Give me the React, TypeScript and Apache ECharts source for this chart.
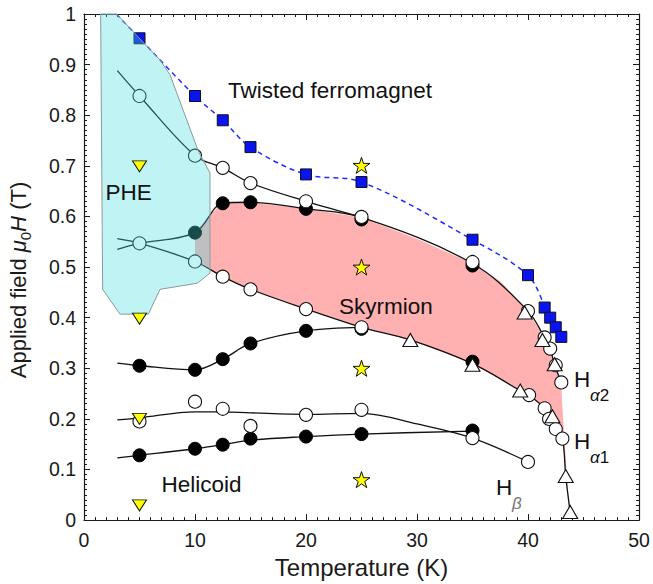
import React, { useEffect, useRef } from 'react';
import * as echarts from 'echarts';

const FONT = '"Liberation Sans", Arial, Helvetica, sans-serif';

// ---- Axis ranges / ticks ----
const xRange = [0, 50];
const yRange = [0, 1];
const xInterval = 10;
const yInterval = 0.1;

// ---- Boundary curves ----
const upperOpenLine = [[3, 0.888], [5, 0.838], [10, 0.72], [12.5, 0.696], [15, 0.666], [20, 0.63], [25, 0.599]];
const skyUpperLine = [[3, 0.535], [5, 0.547], [10, 0.568], [12.5, 0.626], [15, 0.628], [20, 0.615], [25, 0.598], [35, 0.507], [40, 0.413], [41.5, 0.36], [42, 0.338], [42.4, 0.307], [43, 0.272]];
const skyLowerLine = [[3, 0.556], [5, 0.547], [10, 0.511], [12.5, 0.481], [15, 0.456], [20, 0.417], [25, 0.381], [29.4, 0.356], [35, 0.309], [39.3, 0.256], [40, 0.248], [41.5, 0.221], [42, 0.203], [42.5, 0.181], [43.1, 0.161], [43.4, 0.087], [43.8, 0.016]];
const midFilledLine = [[3, 0.31], [5, 0.305], [10, 0.297], [12.5, 0.318], [15, 0.349], [20, 0.374], [25, 0.381]];
const openLowLine = [[3, 0.198], [5, 0.202], [10, 0.214], [12.5, 0.214], [15, 0.212], [20, 0.209], [25, 0.211], [30, 0.19], [35, 0.162], [40, 0.115]];
const filledLowLine = [[3, 0.123], [5, 0.128], [10, 0.141], [12.5, 0.149], [15, 0.158], [20, 0.165], [25, 0.17], [35, 0.176]];
const twistedLine = [[2.9, 1.0], [5, 0.952], [10, 0.838], [12.5, 0.79], [15, 0.737], [20, 0.683], [25, 0.668], [35, 0.554], [40, 0.484], [41.3, 0.432]];

// ---- Markers ----
const openCircles = [
  [5, 0.838], [10, 0.72], [12.5, 0.696], [15, 0.666], [20, 0.63], [25, 0.599], [35, 0.51], [40, 0.413], [41.5, 0.361], [42, 0.339], [42.5, 0.306], [43, 0.272],
  [5, 0.547], [10, 0.511], [12.5, 0.481], [15, 0.456], [20, 0.417], [25, 0.381], [40.1, 0.247], [41.5, 0.221], [41.9, 0.2], [42.5, 0.18], [43.1, 0.161],
  [5, 0.195], [10, 0.234], [12.5, 0.22], [15, 0.186], [20, 0.208], [25, 0.218], [35, 0.162], [40, 0.115],
];
const filledCircles = [
  [5, 0.305], [10, 0.297], [12.5, 0.318], [15, 0.349], [20, 0.374], [25, 0.378], [35, 0.313],
  [10, 0.568], [12.5, 0.626], [15, 0.628], [20, 0.615], [25, 0.594], [35, 0.503],
  [5, 0.128], [10, 0.141], [12.5, 0.149], [15, 0.161], [20, 0.165], [25, 0.17], [35, 0.177],
];
const openTriangles = [[29.4, 0.356], [35, 0.307], [39.3, 0.256], [42.2, 0.205], [43.4, 0.087], [43.8, 0.016], [39.7, 0.41], [41.3, 0.356], [42.4, 0.308]];
const blueSquares = [[5, 0.952], [10, 0.838], [12.5, 0.79], [15, 0.737], [20, 0.683], [25, 0.668], [35, 0.554], [40, 0.484], [41.5, 0.42], [42, 0.4], [42.5, 0.381], [43, 0.362]];
const yellowTriangles = [[5, 0.699], [5, 0.398], [5, 0.2], [5, 0.029]];
const yellowStars = [[25, 0.701], [25, 0.5], [25, 0.3], [25, 0.08]];

// ---- Regions ----
const skyrmionRegion = [
  [10, 0.568], [11.4, 0.605], [12.5, 0.626], [15, 0.628], [20, 0.615], [25, 0.598], [30, 0.556], [35, 0.507], [37.5, 0.472], [40, 0.413], [41.5, 0.36], [42, 0.338], [42.4, 0.307], [43, 0.272],
  [43.0, 0.259], [43.7, 0.016],
  [43.8, 0.016], [43.4, 0.087], [43.1, 0.161], [42.5, 0.181], [42, 0.203], [41.5, 0.221], [40, 0.248], [39.3, 0.256], [35, 0.309], [29.4, 0.356], [25, 0.381], [20, 0.417], [15, 0.456], [12.5, 0.481], [10, 0.511],
];
const pheRegion = [
  [1.5, 1.0], [2.95, 1.0], [4.86, 0.955], [6.85, 0.909], [7.75, 0.88], [10.3, 0.729], [11.35, 0.686],
  [11.35, 0.488], [10.2, 0.468], [6.85, 0.456], [5.8, 0.407], [3.24, 0.407], [1.68, 0.456],
];

const STAR = 'path://M50,2 L61.2,36.2 L97.5,36.2 L68.2,57.5 L79.4,91.8 L50,70.6 L20.6,91.8 L31.8,57.5 L2.5,36.2 L38.8,36.2 Z';

function polygonSeries(points: number[][], style: any, z: number) {
  return {
    type: 'custom',
    coordinateSystem: 'cartesian2d',
    data: [points[0]],
    silent: true,
    z,
    clip: false,
    renderItem: (_params: any, api: any) => ({
      type: 'polygon',
      shape: { points: points.map((p) => api.coord(p)) },
      style,
    }),
  };
}

function lineSeries(data: number[][], extra: any = {}) {
  return {
    type: 'line',
    data,
    smooth: 0.35,
    symbol: 'none',
    silent: true,
    z: 2,
    lineStyle: { color: '#111', width: 1.3 },
    ...extra,
  };
}

function scatterSeries(data: number[][], symbol: string, size: any, itemStyle: any, z: number, extra: any = {}) {
  return { type: 'scatter', data, symbol, symbolSize: size, itemStyle: { opacity: 1, ...itemStyle }, z, silent: true, ...extra };
}

function axisCommon(isX: boolean, pos: string, showLabel: boolean) {
  return {
    type: 'value',
    position: pos,
    min: isX ? xRange[0] : yRange[0],
    max: isX ? xRange[1] : yRange[1],
    interval: isX ? xInterval : yInterval,
    axisLine: { show: true, onZero: false, lineStyle: { color: '#1a1a1a', width: 1.2 } },
    axisTick: { show: true, inside: true, length: 6, lineStyle: { color: '#1a1a1a', width: 1 } },
    minorTick: { show: true, splitNumber: 10, length: 3, lineStyle: { color: '#1a1a1a', width: 1 } },
    splitLine: { show: false },
    minorSplitLine: { show: false },
    axisLabel: { show: showLabel, fontFamily: FONT, fontSize: 19.5, color: '#1a1a1a', margin: isX ? 10 : 8 },
  };
}

const LABEL_SIZE = 22.5;

function sub(x: number, y: number, main: string, subText: string, subColor = '#111', italicAll = false) {
  return [
    { type: 'text', x, y, z: 10, style: { text: main, fontFamily: FONT, fontSize: LABEL_SIZE, fill: '#111', align: 'left', verticalAlign: 'middle' } },
    {
      type: 'text', x: x + 16, y: y + 16, z: 10,
      style: {
        text: subText, fontFamily: FONT, fontSize: 17, fill: subColor, align: 'left', verticalAlign: 'middle',
        fontStyle: italicAll ? 'italic' : 'normal',
        rich: { i: { fontStyle: 'italic', fontFamily: FONT, fontSize: 17, fill: subColor } },
      },
    },
  ];
}

function label(x: number, y: number, text: string) {
  return { type: 'text', x, y, z: 10, style: { text, fontFamily: FONT, fontSize: LABEL_SIZE, fill: '#111', align: 'center', verticalAlign: 'middle' } };
}

export default function App() {
  const ref = useRef<HTMLDivElement>(null);
  useEffect(() => {
    const chart = echarts.init(ref.current!, null, { renderer: 'svg' });
    const option: any = {
      animation: false,
      backgroundColor: '#fff',
      grid: { left: 84, right: 14, top: 14, bottom: 62.5, containLabel: false },
      xAxis: [
        {
          ...axisCommon(true, 'bottom', true),
          name: 'Temperature (K)',
          nameLocation: 'middle',
          nameGap: 34,
          nameTextStyle: { fontFamily: FONT, fontSize: 24, color: '#1a1a1a' },
        },
        axisCommon(true, 'top', false),
      ],
      yAxis: [axisCommon(false, 'left', true), axisCommon(false, 'right', false)],
      graphic: [
        {
          type: 'text', x: 18, y: 280, rotation: Math.PI / 2, z: 10,
          style: {
            text: 'Applied field {i|μ}{s|0}{i|H} (T)',
            fontFamily: FONT, fontSize: 22, fill: '#1a1a1a', align: 'center', verticalAlign: 'middle',
            rich: {
              i: { fontStyle: 'italic', fontFamily: FONT, fontSize: 22, lineHeight: 30, verticalAlign: 'middle' },
              s: { fontFamily: FONT, fontSize: 15, lineHeight: 15, verticalAlign: 'bottom' },
            },
          },
        },
        label(330, 90, 'Twisted ferromagnet'),
        label(128.5, 192.5, 'PHE'),
        label(386, 306.5, 'Skyrmion'),
        label(201.5, 484, 'Helicoid'),
        ...sub(496, 487, 'H', 'β', '#777', true),
        ...sub(574, 379, 'H', '{i|α}2'),
        ...sub(574, 441, 'H', '{i|α}1'),
      ],
      series: [
        polygonSeries(skyrmionRegion, { fill: '#ffb0b0', stroke: 'none' }, 1),
        lineSeries(upperOpenLine),
        lineSeries(skyUpperLine),
        lineSeries(skyLowerLine),
        lineSeries(midFilledLine),
        lineSeries(openLowLine),
        lineSeries(filledLowLine),
        lineSeries(twistedLine, { lineStyle: { color: '#1f2cff', width: 1.5, type: [5, 4] } }),
        scatterSeries(blueSquares, 'rect', 11, { color: '#0a14f0', borderColor: '#111', borderWidth: 1 }, 3),
        scatterSeries(filledCircles, 'circle', 13, { color: '#000', borderColor: '#000', borderWidth: 1 }, 4),
        scatterSeries(openCircles, 'circle', 13, { color: '#fff', borderColor: '#111', borderWidth: 1.1 }, 5),
        scatterSeries(openTriangles, 'triangle', [15, 13], { color: '#fff', borderColor: '#111', borderWidth: 1.1 }, 6),
        polygonSeries(pheRegion, { fill: 'rgba(70,220,220,0.34)', stroke: '#8a9a9a', lineWidth: 1 }, 7),
        scatterSeries(yellowTriangles, 'triangle', [14, 11], { color: '#ffff00', borderColor: '#111', borderWidth: 1 }, 8, { symbolRotate: 180 }),
        scatterSeries(yellowStars, STAR, 17, { color: '#ffff00', borderColor: '#111', borderWidth: 1 }, 8, { symbolKeepAspect: true }),
      ],
    };
    chart.setOption(option);
    return () => chart.dispose();
  }, []);
  return <div ref={ref} style={{ position: 'fixed', left: 0, top: 0, width: 653, height: 584, background: '#fff' }} />;
}
